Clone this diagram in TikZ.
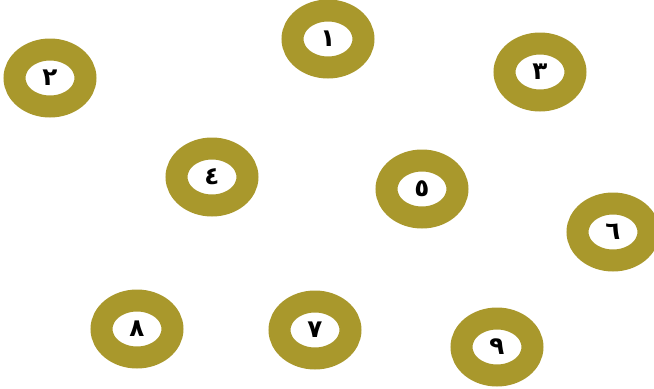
\documentclass[tikz,border=0pt]{standalone}
\usepackage{fontspec}
\newfontfamily\arabicfont[Script=Arabic]{DejaVu Sans}
\TeXXeTstate=1
\usetikzlibrary{shapes.geometric}
\definecolor{ringolive}{RGB}{169,152,44}

\begin{document}
\begin{tikzpicture}[x=0.02cm, y=-0.02cm,
  ring/.style={ellipse, draw=ringolive, line width=0.44cm, fill=white,
    minimum width=1.42cm, minimum height=1.14cm, inner sep=0pt,
    font=\arabicfont\bfseries\fontsize{14}{16}\selectfont}]
  \useasboundingbox (0,0) rectangle (654,389);
  \node[ring] (r1) at (328,39) {\beginR ١\endR};
  \node[ring] (r2) at (50,78) {\beginR ٢\endR};
  \node[ring] (r3) at (540,72) {\beginR ٣\endR};
  \node[ring] (r4) at (212,177) {\beginR ٤\endR};
  \node[ring] (r5) at (422,189) {\beginR ٥\endR};
  \node[ring] (r6) at (613,232) {\beginR ٦\endR};
  \node[ring] (r7) at (315,330) {\beginR ٧\endR};
  \node[ring] (r8) at (137,329) {\beginR ٨\endR};
  \node[ring] (r9) at (497,347) {\beginR ٩\endR};
\end{tikzpicture}
\end{document}
